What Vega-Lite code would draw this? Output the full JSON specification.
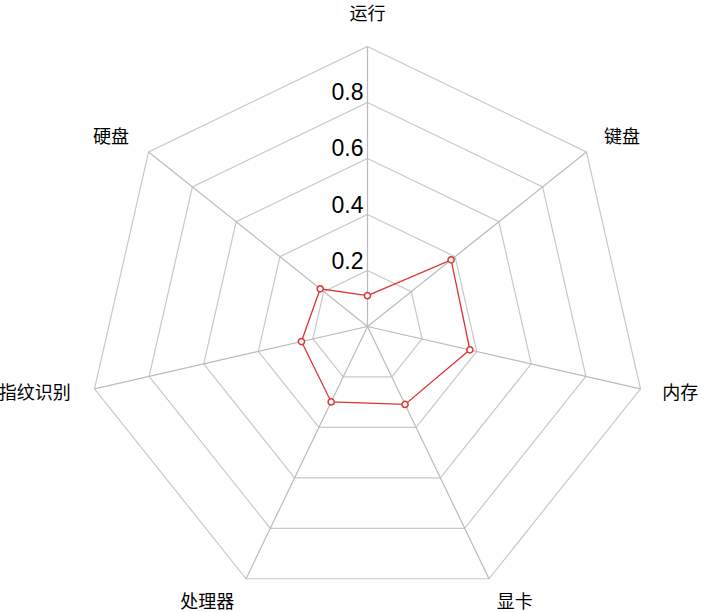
{
  "$schema": "https://vega.github.io/schema/vega-lite/v6.json",
  "width": 701,
  "height": 612,
  "padding": 0,
  "autosize": {"type": "none"},
  "background": "white",
  "config": {"view": {"stroke": null}},
  "datasets": {
    "axes": [
      {"name": "运行", "idx": 0, "value": 0.11},
      {"name": "键盘", "idx": 1, "value": 0.382},
      {"name": "内存", "idx": 2, "value": 0.375},
      {"name": "显卡", "idx": 3, "value": 0.309},
      {"name": "处理器", "idx": 4, "value": 0.299},
      {"name": "指纹识别", "idx": 5, "value": 0.242},
      {"name": "硬盘", "idx": 6, "value": 0.216}
    ],
    "rings": [
      {"level": 0.2, "idx": [0, 1, 2, 3, 4, 5, 6]},
      {"level": 0.4, "idx": [0, 1, 2, 3, 4, 5, 6]},
      {"level": 0.6, "idx": [0, 1, 2, 3, 4, 5, 6]},
      {"level": 0.8, "idx": [0, 1, 2, 3, 4, 5, 6]},
      {"level": 1.0, "idx": [0, 1, 2, 3, 4, 5, 6]}
    ],
    "ticks": [
      {"level": 0.2, "label": "0.2"},
      {"level": 0.4, "label": "0.4"},
      {"level": 0.6, "label": "0.6"},
      {"level": 0.8, "label": "0.8"}
    ]
  },
  "resolve": {"scale": {"x": "shared", "y": "shared"}},
  "layer": [
    {
      "data": {"name": "rings"},
      "transform": [
        {"flatten": ["idx"]},
        {"calculate": "datum.level * sin(datum.idx * 2 * PI / 7)", "as": "gx"},
        {"calculate": "datum.level * cos(datum.idx * 2 * PI / 7)", "as": "gy"}
      ],
      "mark": {"type": "line", "interpolate": "linear-closed", "stroke": "#c8c8c8", "strokeWidth": 1.2},
      "encoding": {
        "x": {"field": "gx", "type": "quantitative", "scale": {"domain": [-1.3125, 1.19107], "nice": false, "zero": false}, "axis": null},
        "y": {"field": "gy", "type": "quantitative", "scale": {"domain": [-1.01964, 1.16607], "nice": false, "zero": false}, "axis": null},
        "detail": {"field": "level", "type": "nominal"},
        "order": {"field": "idx", "type": "quantitative"}
      }
    },
    {
      "data": {"name": "axes"},
      "transform": [
        {"calculate": "sin(datum.idx * 2 * PI / 7)", "as": "ox"},
        {"calculate": "cos(datum.idx * 2 * PI / 7)", "as": "oy"},
        {"calculate": "0", "as": "cx"},
        {"calculate": "0", "as": "cy"}
      ],
      "mark": {"type": "rule", "stroke": "#bbbbbb", "strokeWidth": 1.2},
      "encoding": {
        "x": {"field": "cx", "type": "quantitative"},
        "y": {"field": "cy", "type": "quantitative"},
        "x2": {"field": "ox"},
        "y2": {"field": "oy"}
      }
    },
    {
      "data": {"name": "axes"},
      "transform": [
        {"calculate": "datum.value * sin(datum.idx * 2 * PI / 7)", "as": "px"},
        {"calculate": "datum.value * cos(datum.idx * 2 * PI / 7)", "as": "py"}
      ],
      "mark": {"type": "line", "interpolate": "linear-closed", "stroke": "#dd3333", "strokeWidth": 1.3},
      "encoding": {
        "x": {"field": "px", "type": "quantitative"},
        "y": {"field": "py", "type": "quantitative"},
        "order": {"field": "idx", "type": "quantitative"}
      }
    },
    {
      "data": {"name": "axes"},
      "transform": [
        {"calculate": "datum.value * sin(datum.idx * 2 * PI / 7)", "as": "px"},
        {"calculate": "datum.value * cos(datum.idx * 2 * PI / 7)", "as": "py"}
      ],
      "mark": {"type": "point", "shape": "circle", "filled": false, "fill": "white", "fillOpacity": 1, "stroke": "#dd3333", "strokeWidth": 1.5, "size": 38, "opacity": 1},
      "encoding": {
        "x": {"field": "px", "type": "quantitative"},
        "y": {"field": "py", "type": "quantitative"}
      }
    },
    {
      "data": {"name": "ticks"},
      "transform": [{"calculate": "0", "as": "cx"}],
      "mark": {"type": "text", "align": "right", "baseline": "alphabetic", "dx": -4, "dy": -2, "font": "Liberation Sans", "fontSize": 23, "fill": "#000000"},
      "encoding": {
        "x": {"field": "cx", "type": "quantitative"},
        "y": {"field": "level", "type": "quantitative"},
        "text": {"field": "label", "type": "nominal"}
      }
    },
    {
      "data": {"name": "axes"},
      "transform": [
        {"filter": "datum.idx == 0"},
        {"calculate": "1.08 * sin(datum.idx * 2 * PI / 7)", "as": "lx"},
        {"calculate": "1.08 * cos(datum.idx * 2 * PI / 7)", "as": "ly"}
      ],
      "mark": {"type": "text", "align": "center", "baseline": "bottom", "font": "Noto Sans CJK SC", "fontSize": 18, "fill": "#000000"},
      "encoding": {
        "x": {"field": "lx", "type": "quantitative"},
        "y": {"field": "ly", "type": "quantitative"},
        "text": {"field": "name", "type": "nominal"}
      }
    },
    {
      "data": {"name": "axes"},
      "transform": [
        {"filter": "datum.idx == 1 || datum.idx == 2"},
        {"calculate": "1.08 * sin(datum.idx * 2 * PI / 7)", "as": "lx"},
        {"calculate": "1.08 * cos(datum.idx * 2 * PI / 7)", "as": "ly"}
      ],
      "mark": {"type": "text", "align": "left", "baseline": "middle", "font": "Noto Sans CJK SC", "fontSize": 18, "fill": "#000000"},
      "encoding": {
        "x": {"field": "lx", "type": "quantitative"},
        "y": {"field": "ly", "type": "quantitative"},
        "text": {"field": "name", "type": "nominal"}
      }
    },
    {
      "data": {"name": "axes"},
      "transform": [
        {"filter": "datum.idx == 5 || datum.idx == 6"},
        {"calculate": "1.08 * sin(datum.idx * 2 * PI / 7)", "as": "lx"},
        {"calculate": "1.08 * cos(datum.idx * 2 * PI / 7)", "as": "ly"}
      ],
      "mark": {"type": "text", "align": "right", "baseline": "middle", "dx": -2, "font": "Noto Sans CJK SC", "fontSize": 18, "fill": "#000000"},
      "encoding": {
        "x": {"field": "lx", "type": "quantitative"},
        "y": {"field": "ly", "type": "quantitative"},
        "text": {"field": "name", "type": "nominal"}
      }
    },
    {
      "data": {"name": "axes"},
      "transform": [
        {"filter": "datum.idx == 3"},
        {"calculate": "1.08 * sin(datum.idx * 2 * PI / 7)", "as": "lx"},
        {"calculate": "1.08 * cos(datum.idx * 2 * PI / 7)", "as": "ly"}
      ],
      "mark": {"type": "text", "align": "left", "baseline": "middle", "dx": -2, "dy": 4, "font": "Noto Sans CJK SC", "fontSize": 18, "fill": "#000000"},
      "encoding": {
        "x": {"field": "lx", "type": "quantitative"},
        "y": {"field": "ly", "type": "quantitative"},
        "text": {"field": "name", "type": "nominal"}
      }
    },
    {
      "data": {"name": "axes"},
      "transform": [
        {"filter": "datum.idx == 4"},
        {"calculate": "1.08 * sin(datum.idx * 2 * PI / 7)", "as": "lx"},
        {"calculate": "1.08 * cos(datum.idx * 2 * PI / 7)", "as": "ly"}
      ],
      "mark": {"type": "text", "align": "right", "baseline": "middle", "dx": -2, "dy": 4, "font": "Noto Sans CJK SC", "fontSize": 18, "fill": "#000000"},
      "encoding": {
        "x": {"field": "lx", "type": "quantitative"},
        "y": {"field": "ly", "type": "quantitative"},
        "text": {"field": "name", "type": "nominal"}
      }
    }
  ]
}
